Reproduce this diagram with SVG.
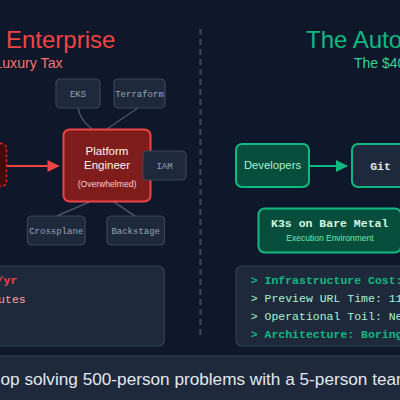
<svg xmlns="http://www.w3.org/2000/svg" width="400" height="400" viewBox="0 0 400 400">
<defs>
<style>
.sans{font-family:"Liberation Sans",Arial,sans-serif}
.mono{font-family:"Liberation Mono","Courier New",monospace}
.tool rect{fill:#1e293b;stroke:#3a4658;stroke-width:1.2}
.tool text{fill:#94a3b8;font-size:9px;text-anchor:middle}
.conn{fill:none;stroke:#475569;stroke-width:1.5}
.panel{fill:#1e293b;stroke:#334155;stroke-width:1.2}
</style>
<marker id="ahR" viewBox="0 0 12 12" refX="11" refY="6" markerWidth="13" markerHeight="12" markerUnits="userSpaceOnUse" orient="auto"><path d="M0,0 L12,6 L0,12 Z" fill="#ef4444"/></marker>
<marker id="ahG" viewBox="0 0 12 12" refX="11" refY="6" markerWidth="12" markerHeight="12" markerUnits="userSpaceOnUse" orient="auto"><path d="M0,0 L12,6 L0,12 Z" fill="#10b981"/></marker>
</defs>
<rect width="400" height="400" fill="#0f172a"/>

<!-- divider -->
<line x1="200.5" y1="29" x2="200.5" y2="338" stroke="#334155" stroke-width="2.5" stroke-dasharray="6,4"/>

<!-- titles -->
<text class="sans" x="6" y="47.5" font-size="24" fill="#ef4444">Enterprise</text>
<text class="sans" x="62.7" y="67.5" font-size="14.2" fill="#f87171" text-anchor="end">Luxury Tax</text>
<text class="sans" x="306" y="47.5" font-size="24" fill="#10b981">The Auto</text>
<text class="sans" x="354" y="68" font-size="14" fill="#34d399">The $40</text>

<!-- connectors -->
<g id="connectors">
<path class="conn" d="M78,108 Q80,120 92,129"/>
<path class="conn" d="M138,108 Q120,120 107,129"/>
<path class="conn" d="M90,201.7 L56.7,216"/>
<path class="conn" d="M113.3,201.7 L135,216"/>
<path class="conn" d="M150,166 L146,166"/>
<line x1="7" y1="166" x2="58.5" y2="166" stroke="#ef4444" stroke-width="2" marker-end="url(#ahR)"/>
<line x1="309" y1="166" x2="347" y2="166" stroke="#10b981" stroke-width="2" marker-end="url(#ahG)"/>
</g>

<!-- left cut node -->
<g id="source">
<rect x="-40" y="143.5" width="46.5" height="43" rx="5" fill="#450a0a" stroke="#dc2626" stroke-width="1.5" stroke-dasharray="3,2"/>
</g>

<g id="eks" class="tool"><rect x="56" y="79" width="44" height="29" rx="4"/><text class="mono" x="78" y="96.5">EKS</text></g>
<g id="terraform" class="tool"><rect x="114" y="79" width="51" height="29" rx="4"/><text class="mono" x="139.5" y="96.5">Terraform</text></g>

<g id="platform">
<rect x="63.5" y="129.5" width="87" height="72" rx="6" fill="#7f1d1d" stroke="#ef4444" stroke-width="2"/>
<text class="sans" x="107" y="155" font-size="11.5" fill="#fef2f2" text-anchor="middle">Platform</text>
<text class="sans" x="107" y="169.3" font-size="11.5" fill="#fef2f2" text-anchor="middle">Engineer</text>
<text class="sans" x="107" y="186.5" font-size="8.6" fill="#fecaca" text-anchor="middle">(Overwhelmed)</text>
</g>

<g id="iam" class="tool"><rect x="143" y="151" width="43" height="29" rx="4"/><text class="mono" x="164.5" y="168.5">IAM</text></g>
<g id="crossplane" class="tool"><rect x="27.5" y="216" width="57.5" height="29" rx="4"/><text class="mono" x="56.2" y="233.5">Crossplane</text></g>
<g id="backstage" class="tool"><rect x="107" y="216" width="57.5" height="29" rx="4"/><text class="mono" x="135.7" y="233.5">Backstage</text></g>

<!-- right nodes -->
<g id="developers">
<rect x="236" y="144" width="73" height="43" rx="6" fill="#064e3b" stroke="#10b981" stroke-width="2"/>
<text class="sans" x="272.5" y="168.5" font-size="11.3" fill="#a7f3d0" text-anchor="middle">Developers</text>
</g>
<g id="git">
<rect x="352" y="144" width="57" height="43" rx="6" fill="#1e293b" stroke="#10b981" stroke-width="2"/>
<text class="mono" x="380.5" y="169.5" font-size="11.5" font-weight="bold" fill="#e2e8f0" text-anchor="middle">Git</text>
</g>
<g id="k3s">
<rect x="258.5" y="208.5" width="142.5" height="44" rx="6" fill="#064e3b" stroke="#10b981" stroke-width="2"/>
<text class="mono" x="329.7" y="226.7" font-size="11.5" font-weight="bold" fill="#d1fae5" text-anchor="middle">K3s on Bare Metal</text>
<text class="sans" x="330" y="240.7" font-size="8.5" fill="#6ee7b7" text-anchor="middle">Execution Environment</text>
</g>

<!-- bottom panels -->
<g id="left-panel">
<rect class="panel" x="-20" y="266" width="184.3" height="80" rx="6"/>
<text class="mono" x="17.3" y="284.3" font-size="11.5" font-weight="bold" fill="#ef4444" text-anchor="end">/yr</text>
<text class="mono" x="25.7" y="302.7" font-size="11.5" fill="#fca5a5" text-anchor="end">utes</text>
</g>
<g id="right-panel">
<rect class="panel" x="236" y="266" width="190" height="80" rx="6"/>
<text class="mono" x="250.7" y="284.3" font-size="11.5" font-weight="bold" fill="#10b981">&gt; Infrastructure Cost:</text>
<text class="mono" x="250.7" y="302.3" font-size="11.5" fill="#a7f3d0">&gt; Preview URL Time: 11</text>
<text class="mono" x="250.7" y="320" font-size="11.5" fill="#a7f3d0">&gt; Operational Toil: Ne</text>
<text class="mono" x="250.7" y="337.7" font-size="11.5" font-weight="bold" fill="#10b981">&gt; Architecture: Boring</text>
</g>

<!-- bottom bar -->
<g id="footer">
<rect x="-10" y="356" width="420" height="60" fill="#1e293b" stroke="#334155" stroke-width="1.2"/>
<text class="sans" x="0.5" y="384.5" font-size="17.2" fill="#e2e8f0">op solving 500-person problems with a 5-person team</text>
</g>
</svg>
